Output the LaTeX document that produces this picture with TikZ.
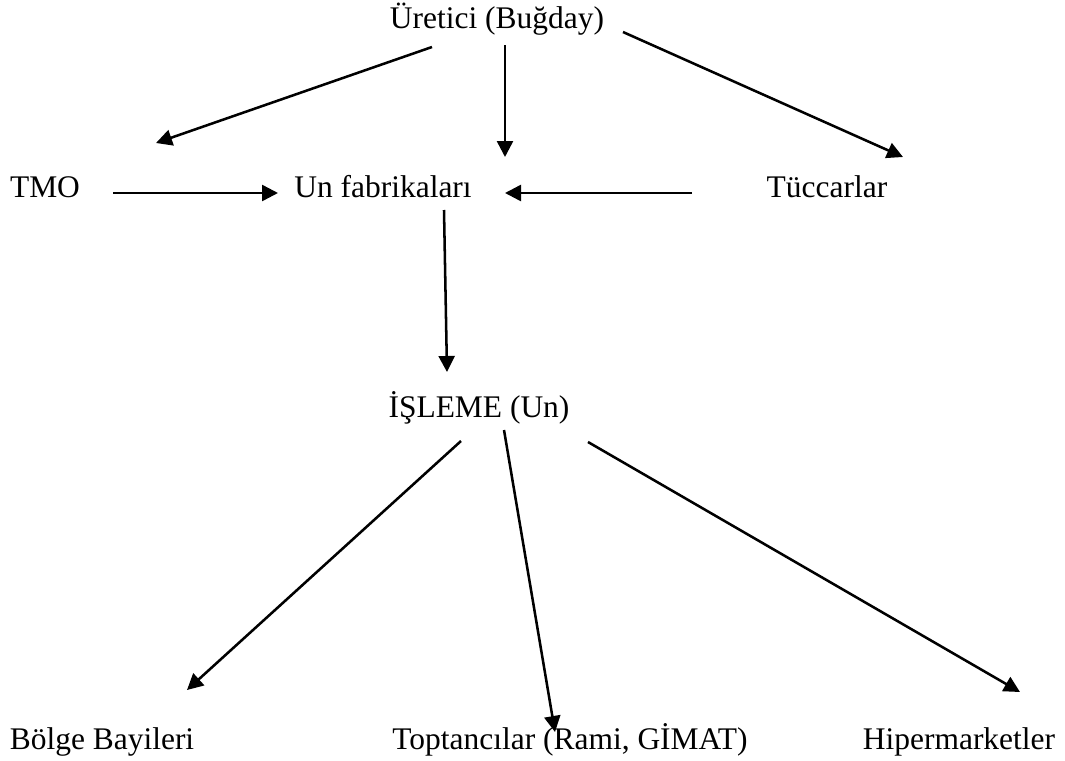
\documentclass[tikz,border=0pt]{standalone}
\usepackage{fontspec}
\setmainfont{Liberation Serif}
\usetikzlibrary{arrows.meta}

\begin{document}
\begin{tikzpicture}[
    x=0.75pt, y=-0.75pt,
    every path/.style={-{Triangle[length=12pt, width=12pt]}, line width=1.9pt},
    label/.style={anchor=base, inner sep=0pt, font=\fontsize{23.6}{28}\selectfont},
    ]

    \useasboundingbox (0,0) rectangle (1065,761);

    % labels
    \node (uretici) [label] at (497,28) {Üretici (Buğday)};
    \node (tmo)     [label] at (45,197) {TMO};
    \node (unfab)   [label] at (383,197) {Un fabrikaları};
    \node (tuccar)  [label] at (827,197) {Tüccarlar};
    \node (isleme)  [label] at (479,417) {İŞLEME (Un)};
    \node (bolge)   [label] at (102,749) {Bölge Bayileri};
    \node (toptan)  [label] at (570,749) {Toptancılar (Rami, GİMAT)};
    \node (hiper)   [label] at (959,749) {Hipermarketler};

    % arrow ends
    \coordinate (u1) at (432,47);  \coordinate (tmo-in) at (156,143);
    \coordinate (u2) at (505,45);  \coordinate (unfab-in) at (505,157);
    \coordinate (u3) at (623,32);  \coordinate (tuccar-in) at (903,157);
    \coordinate (tmo-out) at (113,193);    \coordinate (unfab-l) at (278,193);
    \coordinate (tuccar-out) at (692,193); \coordinate (unfab-r) at (505,193);
    \coordinate (unfab-out) at (444,210);  \coordinate (isleme-in) at (447,372);
    \coordinate (i1) at (461,441); \coordinate (bolge-in) at (187,690);
    \coordinate (i2) at (504,430); \coordinate (toptan-in) at (555,732);
    \coordinate (i3) at (588,442); \coordinate (hiper-in) at (1020,692);

    \foreach \a/\b in {u1/tmo-in, u2/unfab-in, u3/tuccar-in,
                       tmo-out/unfab-l, tuccar-out/unfab-r, unfab-out/isleme-in,
                       i1/bolge-in, i2/toptan-in, i3/hiper-in} {
        \draw (\a) -- (\b);
    }
\end{tikzpicture}
\end{document}
